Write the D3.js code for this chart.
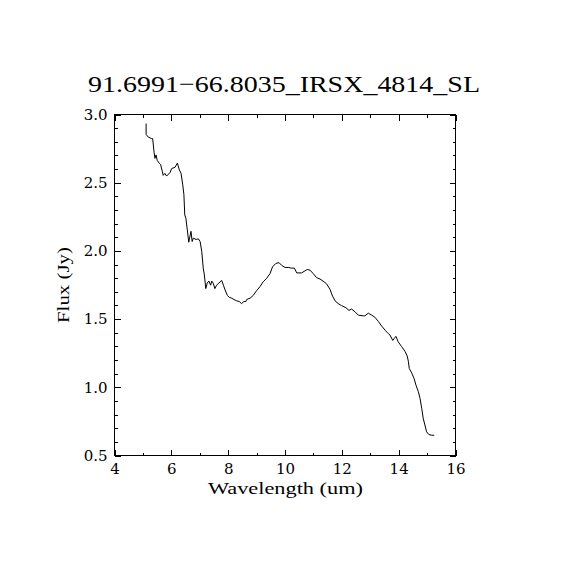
<!DOCTYPE html>
<html>
<head>
<meta charset="utf-8">
<script src="https://cdn.jsdelivr.net/npm/d3@7"></script>
<style>
  body { margin: 0; background: #fff; }
  text { font-family: "Liberation Serif", "DejaVu Serif", serif; fill: #000; }
  .tick text { font-family: "DejaVu Serif", serif; font-size: 15px; }
</style>
</head>
<body>
<div id="chart"></div>
<script>
const chartTitle = "91.6991\u221266.8035_IRSX_4814_SL";
const xLabel = "Wavelength (um)";
const yLabel = "Flux (Jy)";

const xMajorTicks = [4, 6, 8, 10, 12, 14, 16];
const xMinorTicks = [5, 7, 9, 11, 13, 15];
const yMajorTicks = [0.5, 1.0, 1.5, 2.0, 2.5, 3.0];
const yMinorTicks = d3.range(5, 31).map(d => d / 10).filter(d => Math.abs(d * 2 - Math.round(d * 2)) > 1e-6);

// wavelength (um)
const wavelength = [
  5.13, 5.13, 5.21, 5.33, 5.36, 5.41, 5.44, 5.48, 5.52, 5.59, 5.64, 5.70, 5.73, 5.79, 5.85,
  5.97, 6.03, 6.15, 6.23, 6.30, 6.36, 6.42, 6.46, 6.49, 6.53, 6.58, 6.63, 6.66, 6.71, 6.75,
  6.79, 6.89, 6.97, 7.03, 7.09, 7.14, 7.18, 7.23, 7.28, 7.34, 7.40, 7.44, 7.49, 7.55, 7.61,
  7.69, 7.79, 7.85, 7.91, 7.99, 8.06, 8.14, 8.22, 8.32, 8.41, 8.49, 8.57, 8.64, 8.67, 8.79,
  8.90, 9.02, 9.14, 9.25, 9.37, 9.49, 9.58, 9.70, 9.81, 9.90, 10.02, 10.13, 10.25, 10.35, 10.43,
  10.60, 10.72, 10.80, 10.90, 11.01, 11.13, 11.25, 11.39, 11.48, 11.60, 11.69, 11.78, 11.89, 12.01, 12.16,
  12.27, 12.36, 12.48, 12.60, 12.77, 12.83, 12.95, 13.07, 13.18, 13.30, 13.42, 13.54, 13.65, 13.71, 13.81,
  13.86, 13.92, 14.00, 14.12, 14.24, 14.32, 14.36, 14.39, 14.48, 14.56, 14.63, 14.71, 14.77, 14.83, 14.88,
  14.94, 15.00, 15.08, 15.18, 15.27
];
// flux (Jy)
const flux = [
  2.93, 2.85, 2.83, 2.82, 2.82, 2.72, 2.675, 2.70, 2.66, 2.64, 2.63, 2.58, 2.55, 2.565, 2.545,
  2.57, 2.60, 2.61, 2.64, 2.59, 2.565, 2.48, 2.41, 2.26, 2.235, 2.15, 2.06, 2.09, 2.14, 2.065,
  2.09, 2.08, 2.085, 2.065, 1.99, 1.87, 1.82, 1.72, 1.76, 1.775, 1.745, 1.775, 1.76, 1.72, 1.745,
  1.76, 1.78, 1.745, 1.71, 1.67, 1.655, 1.65, 1.64, 1.63, 1.625, 1.61, 1.625, 1.625, 1.64, 1.65,
  1.67, 1.705, 1.735, 1.77, 1.795, 1.83, 1.88, 1.905, 1.91, 1.89, 1.875, 1.875, 1.87, 1.87, 1.835,
  1.835, 1.85, 1.86, 1.855, 1.83, 1.80, 1.79, 1.77, 1.755, 1.715, 1.665, 1.63, 1.61, 1.595, 1.58,
  1.56, 1.57, 1.55, 1.525, 1.52, 1.52, 1.54, 1.525, 1.51, 1.48, 1.445, 1.415, 1.39, 1.38, 1.34,
  1.355, 1.37, 1.33, 1.295, 1.26, 1.225, 1.185, 1.135, 1.10, 1.06, 1.01, 0.965, 0.915, 0.84, 0.77,
  0.72, 0.67, 0.65, 0.645, 0.645
];

const W = 570, H = 570;
const plotLeft = 114, plotRight = 455, plotTop = 114, plotBottom = 455;

const svg = d3.select("#chart").append("svg")
  .attr("width", W)
  .attr("height", H);

const x = d3.scaleLinear().domain([4, 16]).range([plotLeft, plotRight]);
const y = d3.scaleLinear().domain([0.5, 3.0]).range([plotBottom, plotTop]);

// frame
svg.append("rect")
  .attr("x", plotLeft + 0.5).attr("y", plotTop + 0.5)
  .attr("width", plotRight - plotLeft).attr("height", plotBottom - plotTop)
  .attr("fill", "none").attr("stroke", "#000").attr("stroke-width", 1);

function styleAxis(g) {
  g.select(".domain").remove();
  g.selectAll("line").attr("stroke", "#000").attr("shape-rendering", "crispEdges");
}

// bottom axis (major + minor, ticks inward)
svg.append("g").attr("transform", `translate(0.5,${plotBottom + 0.5})`)
  .call(d3.axisBottom(x).tickValues(xMajorTicks).tickSize(-6).tickPadding(8).tickFormat(d3.format("d")))
  .call(styleAxis);
svg.append("g").attr("transform", `translate(0.5,${plotBottom + 0.5})`)
  .call(d3.axisBottom(x).tickValues(xMinorTicks).tickSize(-3).tickFormat(""))
  .call(styleAxis);
// top axis
svg.append("g").attr("transform", `translate(0.5,${plotTop + 0.5})`)
  .call(d3.axisTop(x).tickValues(xMajorTicks).tickSize(-6).tickFormat(""))
  .call(styleAxis);
svg.append("g").attr("transform", `translate(0.5,${plotTop + 0.5})`)
  .call(d3.axisTop(x).tickValues(xMinorTicks).tickSize(-3).tickFormat(""))
  .call(styleAxis);

// left axis
svg.append("g").attr("transform", `translate(${plotLeft + 0.5},0.5)`)
  .call(d3.axisLeft(y).tickValues(yMajorTicks).tickSize(-6).tickPadding(7).tickFormat(d3.format(".1f")))
  .call(styleAxis);
svg.append("g").attr("transform", `translate(${plotLeft + 0.5},0.5)`)
  .call(d3.axisLeft(y).tickValues(yMinorTicks).tickSize(-3).tickFormat(""))
  .call(styleAxis);
// right axis
svg.append("g").attr("transform", `translate(${plotRight + 0.5},0.5)`)
  .call(d3.axisRight(y).tickValues(yMajorTicks).tickSize(-6).tickFormat(""))
  .call(styleAxis);
svg.append("g").attr("transform", `translate(${plotRight + 0.5},0.5)`)
  .call(d3.axisRight(y).tickValues(yMinorTicks).tickSize(-3).tickFormat(""))
  .call(styleAxis);

// spectrum
const pts = wavelength.map((w, i) => [w, flux[i]]);
const line = d3.line()
  .x(d => x(d[0]))
  .y(d => y(d[1]));

svg.append("path")
  .datum(pts)
  .attr("d", line)
  .attr("fill", "none")
  .attr("stroke", "#000")
  .attr("stroke-width", 1);

// title and labels
svg.append("text")
  .attr("x", 284).attr("y", 92)
  .attr("text-anchor", "middle")
  .attr("font-size", 24)
  .attr("textLength", 392)
  .attr("lengthAdjust", "spacingAndGlyphs")
  .text(chartTitle);

svg.append("text")
  .attr("x", 285.5).attr("y", 494)
  .attr("text-anchor", "middle")
  .attr("font-size", 16)
  .attr("textLength", 155)
  .attr("lengthAdjust", "spacingAndGlyphs")
  .text(xLabel);

svg.append("text")
  .attr("transform", "translate(69,285) rotate(-90)")
  .attr("text-anchor", "middle")
  .attr("font-size", 17)
  .attr("textLength", 76)
  .attr("lengthAdjust", "spacingAndGlyphs")
  .text(yLabel);
</script>
</body>
</html>
